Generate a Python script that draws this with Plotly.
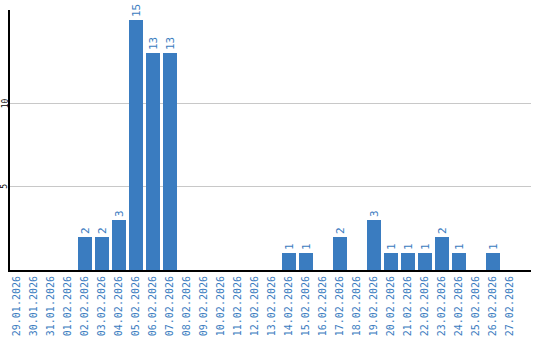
import plotly.graph_objects as go

dates = ["29.01.2026", "30.01.2026", "31.01.2026", "01.02.2026", "02.02.2026", "03.02.2026",
         "04.02.2026", "05.02.2026", "06.02.2026", "07.02.2026", "08.02.2026", "09.02.2026",
         "10.02.2026", "11.02.2026", "12.02.2026", "13.02.2026", "14.02.2026", "15.02.2026",
         "16.02.2026", "17.02.2026", "18.02.2026", "19.02.2026", "20.02.2026", "21.02.2026",
         "22.02.2026", "23.02.2026", "24.02.2026", "25.02.2026", "26.02.2026", "27.02.2026"]
counts = [0, 0, 0, 0, 2, 2, 3, 15, 13, 13, 0, 0, 0, 0, 0, 0, 1, 1, 0, 2, 0, 3, 1, 1, 1, 2, 1, 0, 1, 0]
y_ticks = [5, 10]

blue = "#3a7cc0"
labels = [str(v) if v > 0 else "" for v in counts]

fig = go.Figure(go.Bar(
    x=list(range(len(dates))), y=counts, width=0.82,
    marker=dict(color=blue, line=dict(width=0)),
    text=labels, textposition="outside", textangle=-90,
    textfont=dict(family="DejaVu Sans Mono", size=11, color=blue),
    cliponaxis=False,
))
for v in y_ticks:
    fig.add_annotation(x=0, xref="paper", y=v, yref="y", text=str(v), showarrow=False,
                       textangle=-90, xanchor="center", yanchor="middle", xshift=-5,
                       borderpad=0,
                       font=dict(family="DejaVu Sans Mono", size=8, color="black"))
fig.update_layout(
    width=540, height=340,
    margin=dict(l=10, r=9, t=10, b=70, autoexpand=False),
    paper_bgcolor="white", plot_bgcolor="white",
    showlegend=False, bargap=0,
    xaxis=dict(range=[-0.41, 30.24], tickvals=list(range(len(dates))), ticktext=dates,
               tickangle=-90, tickfont=dict(family="DejaVu Sans Mono", size=10, color=blue),
               showgrid=False, showline=True, linecolor="black", linewidth=2, ticks="",
               zeroline=False, fixedrange=True, automargin=False),
    yaxis=dict(range=[0, 15.6], tickvals=y_ticks, showticklabels=False,
               showgrid=True, gridcolor="#c8c8c8", gridwidth=1,
               showline=True, linecolor="black", linewidth=2, ticks="", zeroline=False,
               automargin=False),
)
fig.write_html("out.html")
